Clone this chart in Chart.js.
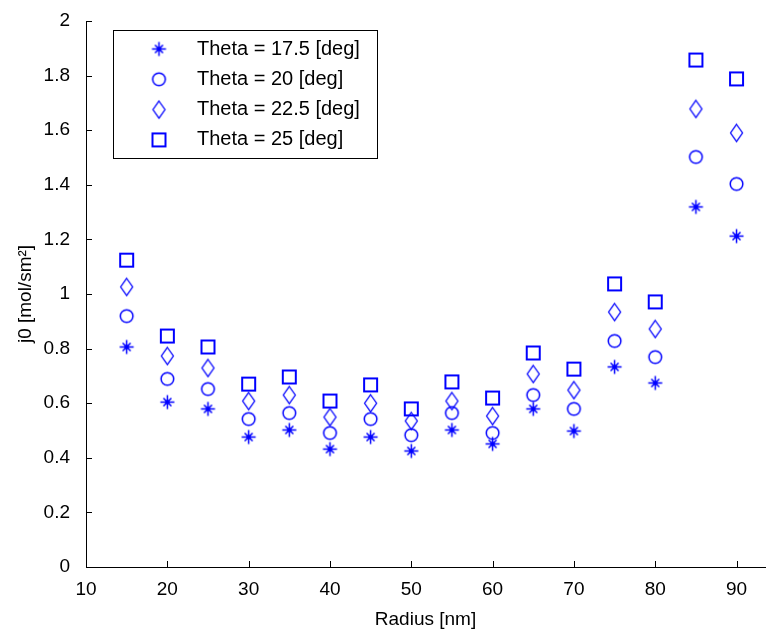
<!DOCTYPE html>
<html>
<head>
<meta charset="utf-8">
<script src="https://cdn.jsdelivr.net/npm/chart.js@4.4.1/dist/chart.umd.min.js"></script>
<style>
  html, body { margin: 0; padding: 0; background: #fff; }
</style>
</head>
<body>
<canvas id="j0Chart" width="770" height="631"></canvas>
<script>
var radius = [15, 20, 25, 30, 35, 40, 45, 50, 55, 60, 65, 70, 75, 80, 85, 90];
var theta175 = [0.806, 0.604, 0.579, 0.476, 0.502, 0.432, 0.476, 0.425, 0.502, 0.451, 0.579, 0.498, 0.733, 0.674, 1.319, 1.212];
var theta20 = [0.919, 0.689, 0.652, 0.542, 0.564, 0.491, 0.542, 0.483, 0.564, 0.491, 0.630, 0.579, 0.828, 0.769, 1.502, 1.403];
var theta225 = [1.026, 0.773, 0.729, 0.608, 0.630, 0.549, 0.600, 0.535, 0.608, 0.553, 0.707, 0.648, 0.934, 0.872, 1.678, 1.590];
var theta25 = [1.124, 0.846, 0.806, 0.670, 0.696, 0.608, 0.667, 0.579, 0.678, 0.619, 0.784, 0.725, 1.037, 0.971, 1.857, 1.788];
var seriesLabels = ['Theta = 17.5 [deg]', 'Theta = 20 [deg]', 'Theta = 22.5 [deg]', 'Theta = 25 [deg]'];
var xTicks = [10, 20, 30, 40, 50, 60, 70, 80, 90];

var blue = '#0000ff';
var fontFam = "'Liberation Sans', Arial, sans-serif";

// matlab style markers drawn on little canvases
function marker(kind) {
     var c = document.createElement('canvas');
     c.width = 21; c.height = 21;
     var g = c.getContext('2d');
     g.strokeStyle = blue;
     g.lineWidth = 1.5;
     g.beginPath();
     if (kind == 'star') {
          g.moveTo(10.5, 3.5); g.lineTo(10.5, 17.5);
          g.moveTo(3.5, 10.5); g.lineTo(17.5, 10.5);
          g.moveTo(6.5, 6.5); g.lineTo(14.5, 14.5);
          g.moveTo(14.5, 6.5); g.lineTo(6.5, 14.5);
     } else if (kind == 'circle') {
          g.arc(10.5, 10.5, 6.3, 0, Math.PI * 2);
     } else if (kind == 'diamond') {
          g.moveTo(10.5, 2); g.lineTo(16.5, 10.5); g.lineTo(10.5, 19); g.lineTo(4.5, 10.5); g.closePath();
          g.lineWidth = 1.3;
     } else {
          g.lineWidth = 2;
          g.rect(4, 4, 13, 13);
     }
     g.stroke();
     if (kind == 'star') {
          g.fillStyle = blue;
          g.beginPath();
          g.arc(10.5, 10.5, 2.2, 0, Math.PI * 2);
          g.fill();
     }
     return c;
}

var markers = [marker('star'), marker('circle'), marker('diamond'), marker('square')];
var allSeries = [theta175, theta20, theta225, theta25];

function toPoints(ys) {
     return radius.map(function(r, i) { return {x: r, y: ys[i]}; });
}

var datasets = allSeries.map(function(s, i) {
     return {
          label: seriesLabels[i],
          data: toPoints(s),
          pointStyle: markers[i],
          showLine: false,
          borderColor: blue,
          backgroundColor: blue
     };
});

var innerTicks = {
     id: 'innerTicks',
     afterDatasetsDraw: function(chart) {
          var ctx = chart.ctx, xs = chart.scales.x, ys = chart.scales.y, a = chart.chartArea;
          ctx.save();
          ctx.strokeStyle = '#000';
          ctx.lineWidth = 1;
          ctx.beginPath();
          ys.ticks.forEach(function(t) {
               var y = Math.round(ys.getPixelForValue(t.value)) + 0.5;
               ctx.moveTo(a.left, y); ctx.lineTo(a.left + 6, y);
          });
          xs.ticks.forEach(function(t) {
               var x = Math.round(xs.getPixelForValue(t.value)) + 0.5;
               ctx.moveTo(x, a.bottom); ctx.lineTo(x, a.bottom - 6);
          });
          ctx.stroke();
          ctx.restore();
     }
};

var boxLegend = {
     id: 'boxLegend',
     afterDraw: function(chart) {
          var ctx = chart.ctx;
          var bx = 113.5, by = 30.5, bw = 264, bh = 128;
          ctx.save();
          ctx.fillStyle = '#fff';
          ctx.fillRect(bx, by, bw, bh);
          ctx.strokeStyle = '#000';
          ctx.lineWidth = 1;
          ctx.strokeRect(bx, by, bw, bh);
          ctx.font = '20px ' + fontFam;
          ctx.fillStyle = '#000';
          ctx.textBaseline = 'middle';
          chart.data.datasets.forEach(function(ds, i) {
               var rowY = 49 + i * 30.3;
               ctx.drawImage(ds.pointStyle, 159 - 10.5, rowY - 10.5);
               ctx.fillText(ds.label, 197, rowY);
          });
          ctx.restore();
     }
};

new Chart(document.getElementById('j0Chart'), {
     type: 'scatter',
     data: { datasets: datasets },
     options: {
          responsive: false,
          animation: false,
          devicePixelRatio: 1,
          layout: { padding: { top: 21, right: 0, left: 0, bottom: 0 } },
          plugins: {
               legend: { display: false },
               tooltip: { enabled: false }
          },
          scales: {
               x: {
                    type: 'linear',
                    min: 10,
                    max: 93.5,
                    afterBuildTicks: function(scale) {
                         scale.ticks = xTicks.map(function(v) { return {value: v}; });
                    },
                    afterFit: function(scale) { scale.height = 64; },
                    grid: { display: false },
                    border: { display: true, color: '#000', width: 1 },
                    ticks: { color: '#000', padding: 3, maxRotation: 0, font: { family: fontFam, size: 19 } },
                    title: { display: true, text: 'Radius [nm]', color: '#000', padding: { top: 2, bottom: 0 }, font: { family: fontFam, size: 19 } }
               },
               y: {
                    min: 0,
                    max: 2,
                    afterFit: function(scale) { scale.width = 86; },
                    grid: { display: false },
                    border: { display: true, color: '#000', width: 1 },
                    ticks: {
                         stepSize: 0.2,
                         color: '#000',
                         padding: 8,
                         font: { family: fontFam, size: 19 },
                         callback: function(value) { return String(Number(value.toFixed(1))); }
                    },
                    title: { display: true, text: 'j0 [mol/sm²]', color: '#000', padding: { top: 14, bottom: 0 }, font: { family: fontFam, size: 19 } }
               }
          }
     },
     plugins: [innerTicks, boxLegend]
});
</script>
</body>
</html>
